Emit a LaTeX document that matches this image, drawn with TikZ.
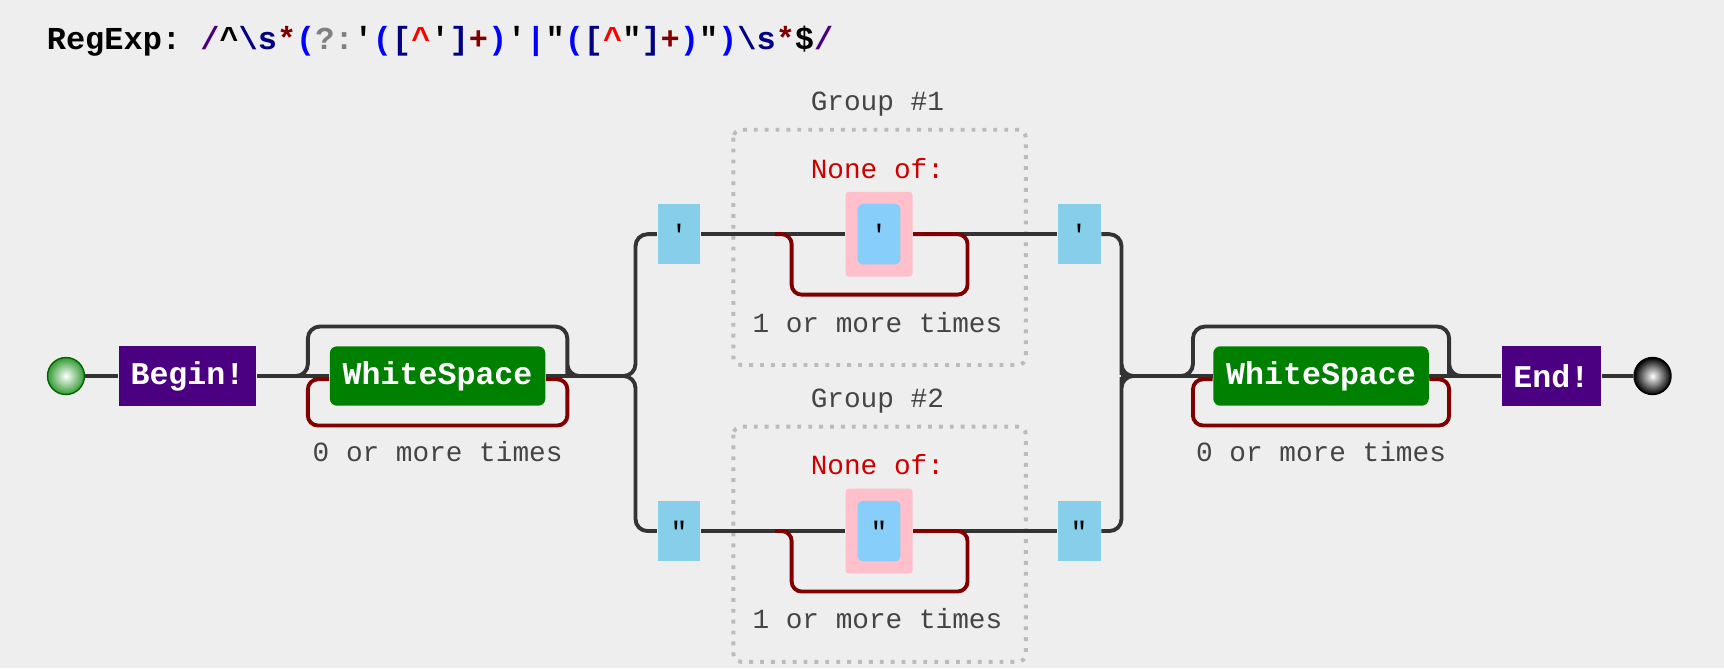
\documentclass[tikz,border=0pt]{standalone}
\usepackage{fontspec}
\setmonofont{Liberation Mono}
\usetikzlibrary{positioning}
\definecolor{bgc}{HTML}{EEEEEE}
\definecolor{linec}{HTML}{333333}
\definecolor{anchorc}{HTML}{4B0082}
\definecolor{wsc}{HTML}{008000}
\definecolor{loopred}{HTML}{800000}
\definecolor{litc}{HTML}{87CEEB}
\definecolor{charc}{HTML}{87CEFA}
\definecolor{pinkc}{HTML}{FFC0CB}
\definecolor{txtc}{HTML}{444444}
\definecolor{nonec}{HTML}{CC0000}
\definecolor{grpc}{HTML}{BBBBBB}
\newcommand\rc[2]{\textcolor{#1}{#2}}

\begin{document}
\begin{tikzpicture}[x=0.011cm, y=-0.011cm, font=\ttfamily,
    line/.style={draw=linec, line width=1.1pt},
    loopc/.style={draw=loopred, line width=1.1pt, rounded corners=0.1cm},
    anchorbox/.style={fill=anchorc, text=white, font=\ttfamily\bfseries\fontsize{9}{10}\selectfont, minimum height=0.594cm, inner sep=0pt},
    wsbox/.style={fill=wsc, text=white, rounded corners=0.07cm, font=\ttfamily\bfseries\fontsize{9}{10}\selectfont, minimum width=2.156cm, minimum height=0.594cm},
    litbox/.style={fill=litc, minimum width=0.429cm, minimum height=0.605cm, inner sep=0pt, font=\ttfamily\fontsize{8}{9}\selectfont},
    charbox/.style={fill=charc, rounded corners=0.05cm, minimum width=0.429cm, minimum height=0.605cm, inner sep=0pt, font=\ttfamily\fontsize{8}{9}\selectfont},
    pinkbox/.style={fill=pinkc, rounded corners=0.03cm, minimum width=0.671cm, minimum height=0.847cm},
    grp/.style={draw=grpc, dotted, line width=1.1pt, rounded corners=0.08cm},
    lbl/.style={text=txtc, font=\ttfamily\fontsize{7.9}{9}\selectfont},
    nonelbl/.style={text=nonec, font=\ttfamily\fontsize{7.9}{9}\selectfont}]
  \fill[bgc] (0,0) rectangle (1568,608);
  \useasboundingbox (0,0) rectangle (1568,608);

  % Title
  \node[anchor=base west, inner sep=0pt, font=\ttfamily\bfseries\fontsize{9.1}{10}\selectfont] (title) at (42,45)
    {RegExp: \rc{anchorc}{/}\textasciicircum\rc{blue!50!black}{\textbackslash s}\rc{loopred}{*}\rc{blue}{(}\rc{gray}{?:}'\rc{blue}{(}\rc{blue!50!black}{[}\rc{red}{\textasciicircum}'\rc{blue!50!black}{]}\rc{loopred}{+}\rc{blue}{)}'\rc{blue}{|}"\rc{blue}{(}\rc{blue!50!black}{[}\rc{red}{\textasciicircum}"\rc{blue!50!black}{]}\rc{loopred}{+}\rc{blue}{)}"\rc{blue}{)}\rc{blue!50!black}{\textbackslash s}\rc{loopred}{*}\$\rc{anchorc}{/}};

  % Nodes
  \node[circle, minimum size=0.37cm, inner sep=0pt, draw=wsc!80!black, inner color=white, outer color=wsc!80] (st) at (60,342) {};
  \node[anchorbox, minimum width=1.375cm] (beg) at (170.5,342) {Begin!};
  \node[wsbox] (ws1) at (398,342) {WhiteSpace};
  \node[lbl] (rep1) at (398,411) {0 or more times};

  \node[litbox] (q1a) at (617.5,213) {'};
  \node[pinkbox] (pk1) at (799.5,213) {};
  \node[charbox] (ch1) at (799.5,213) {'};
  \node[litbox] (q1b) at (981.5,213) {'};
  \node[lbl] (g1) at (798,95) {Group \#1};
  \node[nonelbl] (n1) at (798,153) {None of:};
  \node[lbl] (r1) at (798,293) {1 or more times};

  \node[litbox] (q2a) at (617.5,483) {"};
  \node[pinkbox] (pk2) at (799.5,483) {};
  \node[charbox] (ch2) at (799.5,483) {"};
  \node[litbox] (q2b) at (981.5,483) {"};
  \node[lbl] (g2) at (798,365) {Group \#2};
  \node[nonelbl] (n2) at (798,423) {None of:};
  \node[lbl] (r2) at (798,563) {1 or more times};

  \node[wsbox] (ws2) at (1201.5,342) {WhiteSpace};
  \node[lbl] (rep2) at (1201.5,411) {0 or more times};
  \node[anchorbox, minimum width=0.99cm] (fin) at (1411,342) {End!};
  \node[circle, minimum size=0.37cm, inner sep=0pt, draw=black, inner color=white, outer color=black] (en) at (1503,342) {};

  % Groups
  \draw[grp] (667,118) rectangle (933,332);
  \draw[grp] (667,388) rectangle (933,602);

  % Edges
  \path[line] (st) -- (beg) (beg) -- (ws1) (ws1) -- (565,342)
    (q1a) -- (pk1) (pk1) -- (q1b) (q2a) -- (pk2) (pk2) -- (q2b)
    (1020,342) -- (ws2) (ws2) -- (fin) (fin) -- (en);
  \draw[line, rounded corners=0.12cm] (262,342) -| (280,297) -| (516,330) |- (534,342);
  \draw[line, rounded corners=0.12cm] (1062,342) -| (1085,297) -| (1318,330) |- (1340,342);
  \draw[line, rounded corners=0.12cm] (560,342) -| (578,213) -- (q1a.west);
  \draw[line, rounded corners=0.12cm] (560,342) -| (578,483) -- (q2a.west);
  \draw[line, rounded corners=0.12cm] (q1b.east) -| (1020,330) |- (1040,342);
  \draw[line, rounded corners=0.12cm] (q2b.east) -| (1020,354) |- (1040,342);
  \draw[loopc] (ws1.east |- 0,345) -| (516,387) -| (280,345) -- (ws1.west |- 0,345);
  \draw[loopc] (ws2.east |- 0,345) -| (1318,387) -| (1085,345) -- (ws2.west |- 0,345);
  \draw[loopc] (pk1.east) -| (880,268) -| (720,213) -- (705,213);
  \draw[loopc] (pk2.east) -| (880,538) -| (720,483) -- (705,483);
\end{tikzpicture}
\end{document}
